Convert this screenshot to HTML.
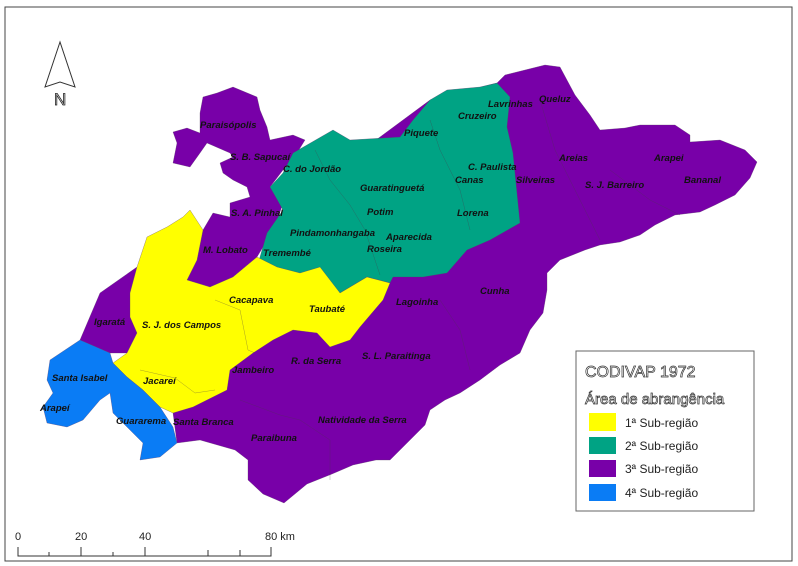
<!DOCTYPE html>
<html><head><meta charset="utf-8"><style>
body{margin:0;background:#fff;width:798px;height:566px;overflow:hidden}
svg{display:block}
.lb{font-family:"Liberation Sans",sans-serif;font-size:9.5px;font-weight:bold;font-style:italic;fill:#111}
.lg{font-family:"Liberation Sans",sans-serif;font-size:12px;fill:#222}
</style></head><body>
<svg width="798" height="566" viewBox="0 0 798 566">
<rect x="5" y="7" width="787" height="554" fill="#fff" stroke="#444" stroke-width="1"/>
<g>
<polygon points="60,42 45,87 60,82 75,87" fill="#fff" stroke="#333" stroke-width="1"/>
<text x="54" y="105" font-family="Liberation Sans,sans-serif" font-size="17" fill="#fff" stroke="#222" stroke-width="0.8">N</text>
</g>
<g stroke="#5a3a6a" stroke-width="0.3">
<polygon fill="#7800a8" points="330,250 320,180 380,137 430,100 497,83 505,75 545,65 560,67 575,95 590,115 600,130 625,128 640,125 675,125 690,135 690,142 720,140 745,150 757,162 750,178 735,195 715,205 700,212 675,215 655,225 640,235 620,242 600,245 585,250 560,260 547,273 547,290 543,313 530,330 520,353 500,365 480,380 460,393 445,400 430,410 425,425 410,440 400,450 390,460 376,460 353,465 332,474 307,484 284,503 263,494 248,480 248,460 235,450 200,440 177,443 173,413 200,380 300,305"/>
<polygon fill="#7800a8" points="233,87 257,97 260,110 267,127 270,140 293,135 305,140 297,153 283,170 270,187 283,203 273,233 263,247 257,257 233,277 210,287 187,280 197,260 203,230 213,213 230,217 230,203 250,197 247,187 233,180 223,173 220,163 233,157 230,153 207,143 200,153 190,167 173,163 177,143 173,132 187,128 200,133 200,113 203,97 217,93"/>
<polygon fill="#7800a8" points="137,267 100,293 80,340 110,353 127,353 137,333 130,293"/>
<polygon fill="#00a384" points="293,153 333,130 350,140 400,137 413,120 430,100 447,90 480,87 497,83 510,97 507,127 513,153 517,193 520,223 490,240 467,250 447,273 423,277 393,277 390,283 367,277 340,293 320,277 300,282 283,277 258,266 260,257 267,233 283,210 270,187 283,173"/>
<polygon fill="#ffff00" points="190,210 203,230 197,260 187,280 210,287 233,277 257,257 277,267 300,273 320,267 340,293 367,277 390,283 383,300 360,327 350,340 330,347 317,333 293,330 273,340 253,353 230,370 227,390 193,407 173,413 160,407 143,390 127,377 113,363 127,353 137,333 130,317 130,293 137,267 147,237 167,227 183,217"/>
<polygon fill="#0a7cf5" points="80,340 50,360 47,380 53,393 43,407 47,423 67,427 83,420 100,400 110,393 113,413 127,427 143,443 140,460 160,457 177,443 173,427 160,407 143,390 127,377 113,363 110,353"/>
</g>
<g fill="none" stroke="#4a3a4a" stroke-width="0.4" opacity="0.6">
<path d="M215,300 L240,310 L248,350 L255,353"/><path d="M140,370 L175,378 L195,393 L215,390"/>
<path d="M315,150 L330,180 L350,205 L365,230 L380,275"/><path d="M430,120 L440,150 L460,190 L470,230"/>
<path d="M540,100 L555,150 L580,200 L600,240"/><path d="M610,170 L650,200 L680,215"/>
<path d="M440,300 L460,330 L470,370"/><path d="M300,420 L330,440 L330,480"/><path d="M240,400 L280,415 L300,420"/>
</g>
<g class="lb">
<text x="200" y="128">Paraisópolis</text><text x="230" y="160">S. B. Sapucaí</text><text x="283" y="172">C. do Jordão</text>
<text x="231" y="216">S. A. Pinhal</text><text x="203" y="253">M. Lobato</text><text x="263" y="256">Tremembé</text>
<text x="290" y="236">Pindamonhangaba</text><text x="360" y="191">Guaratinguetá</text><text x="367" y="215">Potim</text>
<text x="386" y="240">Aparecida</text><text x="367" y="252">Roseira</text><text x="404" y="136">Piquete</text>
<text x="458" y="119">Cruzeiro</text><text x="488" y="107">Lavrinhas</text><text x="539" y="102">Queluz</text>
<text x="468" y="170">C. Paulista</text><text x="455" y="183">Canas</text><text x="457" y="216">Lorena</text>
<text x="516" y="183">Silveiras</text><text x="559" y="161">Areias</text><text x="654" y="161">Arapei</text>
<text x="585" y="188">S. J. Barreiro</text><text x="684" y="183">Bananal</text><text x="229" y="303">Cacapava</text>
<text x="309" y="312">Taubaté</text><text x="142" y="328">S. J. dos Campos</text><text x="94" y="325">Igaratá</text>
<text x="396" y="305">Lagoinha</text><text x="480" y="294">Cunha</text><text x="291" y="364">R. da Serra</text>
<text x="362" y="359">S. L. Paraitinga</text><text x="232" y="373">Jambeiro</text><text x="143" y="384">Jacareí</text>
<text x="52" y="381">Santa Isabel</text><text x="40" y="411">Arapeí</text><text x="116" y="424">Guararema</text>
<text x="173" y="425">Santa Branca</text><text x="251" y="441">Paraibuna</text><text x="318" y="423">Natividade da Serra</text>
</g>
<g>
<rect x="576" y="351" width="178" height="160" fill="#fff" stroke="#666"/>
<text x="585" y="377" font-family="Liberation Sans,sans-serif" font-size="16" fill="#fff" stroke="#333" stroke-width="0.7">CODIVAP 1972</text>
<text x="585" y="404" font-family="Liberation Sans,sans-serif" font-size="15" fill="#fff" stroke="#333" stroke-width="0.7">Área de abrangência</text>
<rect x="589" y="413" width="27" height="18" fill="#ffff00"/>
<text class="lg" x="625" y="427">1ª Sub-região</text>
<rect x="589" y="437" width="27" height="17" fill="#00a384"/>
<text class="lg" x="625" y="450">2ª Sub-região</text>
<rect x="589" y="460" width="27" height="17" fill="#7800a8"/>
<text class="lg" x="625" y="473">3ª Sub-região</text>
<rect x="589" y="484" width="27" height="17" fill="#0a7cf5"/>
<text class="lg" x="625" y="497">4ª Sub-região</text>
</g>
<g font-family="Liberation Sans,sans-serif" font-size="11" fill="#222">
<text x="15" y="540">0</text><text x="75" y="540">20</text><text x="139" y="540">40</text><text x="265" y="540">80 km</text>
<path d="M18,547 V556 H271 V547 M81,547 V556 M145,547 V556 M208,550 V556 M240,550 V556 M49,552 V556 M113,552 V556" stroke="#333" fill="none" stroke-width="1"/>
</g>
</svg>
</body></html>
